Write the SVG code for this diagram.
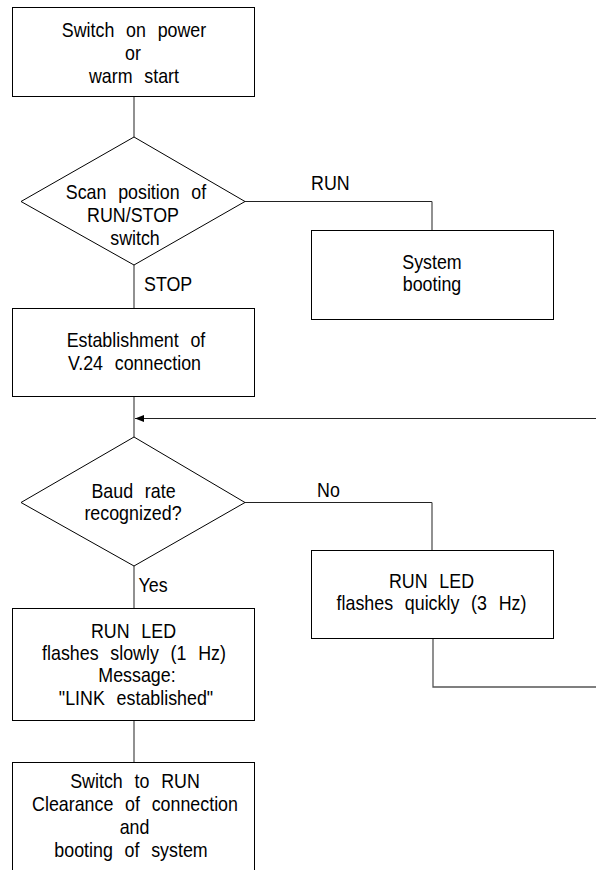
<svg xmlns="http://www.w3.org/2000/svg" width="596" height="870" viewBox="0 0 596 870">
<defs>
<style>
.box{fill:#fff;stroke:#000;stroke-width:1}
.ln{fill:none;stroke:#222;stroke-width:1}
.vl{fill:none;stroke:#555;stroke-width:1.3}
text{font-family:"Liberation Sans",Arial,sans-serif;font-size:21px;fill:#000;word-spacing:8px}
.c{text-anchor:middle}
</style>
<marker id="ah" markerWidth="9" markerHeight="7" refX="9" refY="3.5" orient="auto" markerUnits="userSpaceOnUse">
<path d="M0,0 L9,3.5 L0,7 Z" fill="#000"/>
</marker>
</defs>
<rect width="596" height="870" fill="#fff"/>
<g id="connectors">
<path class="vl" d="M134,96.5 V137"/>
<path class="ln" d="M245,201.5 H432"/>
<path class="vl" d="M432,201.5 V230.5"/>
<path class="vl" d="M134,265 V308.5"/>
<path class="vl" d="M134,396.5 V437"/>
<path class="ln" d="M596,418.5 H135" marker-end="url(#ah)"/>
<path class="ln" d="M245,502.5 H432"/>
<path class="vl" d="M432,502.5 V550.5"/>
<path class="vl" d="M433,638.5 V687 H596"/>
<path class="vl" d="M134,566 V608.5"/>
<path class="vl" d="M134,720.5 V762.5"/>
<text transform="translate(311 190) scale(0.85 1)">RUN</text>
<text transform="translate(144 291) scale(0.85 1)">STOP</text>
<text transform="translate(317 497) scale(0.85 1)">No</text>
<text transform="translate(138.5 592) scale(0.85 1)">Yes</text>
</g>
<g id="start">
<rect class="box" x="12.5" y="7.5" width="242" height="89"/>
<text class="c" transform="translate(134 37) scale(0.85 1)">Switch on power</text>
<text class="c" transform="translate(133 60) scale(0.85 1)">or</text>
<text class="c" transform="translate(134 83) scale(0.85 1)">warm start</text>
</g>
<g id="scan">
<polygon class="box" points="134,137 245,201.5 134,265 21,201.5"/>
<text class="c" transform="translate(136 199) scale(0.85 1)">Scan position of</text>
<text class="c" transform="translate(133 222) scale(0.85 1)">RUN/STOP</text>
<text class="c" transform="translate(135 245) scale(0.85 1)">switch</text>
</g>
<g id="booting">
<rect class="box" x="311.5" y="230.5" width="242" height="89"/>
<text class="c" transform="translate(432 269) scale(0.85 1)">System</text>
<text class="c" transform="translate(432 291) scale(0.85 1)">booting</text>
</g>
<g id="v24">
<rect class="box" x="12.5" y="308.5" width="242" height="88"/>
<text class="c" transform="translate(136 347) scale(0.85 1)">Establishment of</text>
<text class="c" transform="translate(134.5 370) scale(0.85 1)">V.24 connection</text>
</g>
<g id="baud">
<polygon class="box" points="134,437 245,502.5 134,566 21,502.5"/>
<text class="c" transform="translate(133.5 498) scale(0.85 1)">Baud rate</text>
<text class="c" transform="translate(133 520) scale(0.85 1)">recognized?</text>
</g>
<g id="fast">
<rect class="box" x="311.5" y="550.5" width="242" height="88"/>
<text class="c" transform="translate(431.5 588) scale(0.85 1)">RUN LED</text>
<text class="c" transform="translate(431.5 610) scale(0.85 1)">flashes quickly (3 Hz)</text>
</g>
<g id="slow">
<rect class="box" x="12.5" y="608.5" width="242" height="112"/>
<text class="c" transform="translate(133.5 638) scale(0.85 1)">RUN LED</text>
<text class="c" transform="translate(134 660) scale(0.85 1)">flashes slowly (1 Hz)</text>
<text class="c" transform="translate(137 682) scale(0.85 1)">Message:</text>
<text class="c" transform="translate(136 705) scale(0.85 1)">"LINK established"</text>
</g>
<g id="run">
<rect class="box" x="12.5" y="762.5" width="242" height="120"/>
<text class="c" transform="translate(135 788) scale(0.85 1)">Switch to RUN</text>
<text class="c" transform="translate(135 811) scale(0.85 1)">Clearance of connection</text>
<text class="c" transform="translate(134.5 834) scale(0.85 1)">and</text>
<text class="c" transform="translate(131 857) scale(0.85 1)">booting of system</text>
</g>
</svg>
